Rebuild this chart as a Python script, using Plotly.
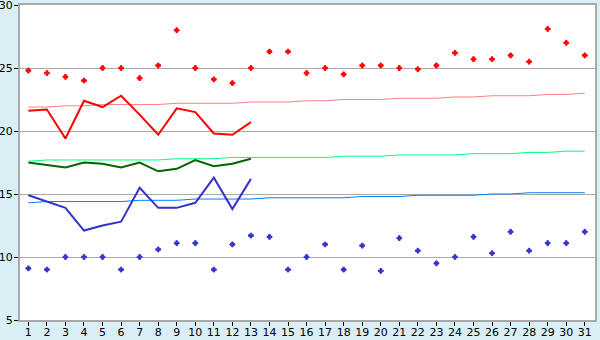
import plotly.graph_objects as go

days = list(range(1, 32))

# Daily maximum (markers)
max_daily = [24.8, 24.6, 24.3, 24.0, 25.0, 25.0, 24.2, 25.2, 28.0, 25.0,
             24.1, 23.8, 25.0, 26.3, 26.3, 24.6, 25.0, 24.5, 25.2, 25.2,
             25.0, 24.9, 25.2, 26.2, 25.7, 25.7, 26.0, 25.5, 28.1, 27.0, 26.0]
# Daily minimum (markers)
min_daily = [9.1, 9.0, 10.0, 10.0, 10.0, 9.0, 10.0, 10.6, 11.1, 11.1,
             9.0, 11.0, 11.7, 11.6, 9.0, 10.0, 11.0, 9.0, 10.9, 8.9,
             11.5, 10.5, 9.5, 10.0, 11.6, 10.3, 12.0, 10.5, 11.1, 11.1, 12.0]

# Current month running lines (days 1..13)
cur_days = list(range(1, 14))
cur_max = [21.6, 21.7, 19.4, 22.4, 21.9, 22.8, 21.3, 19.7, 21.8, 21.5, 19.8, 19.7, 20.7]
cur_mean = [17.5, 17.3, 17.1, 17.5, 17.4, 17.1, 17.5, 16.8, 17.0, 17.7, 17.2, 17.4, 17.8]
cur_min = [14.9, 14.4, 13.9, 12.1, 12.5, 12.8, 15.5, 13.9, 13.9, 14.3, 16.3, 13.8, 16.2]

# Normal (climatology) lines
norm_max = [21.9, 21.9, 22.0, 22.0, 22.1, 22.1, 22.1, 22.1, 22.2, 22.2,
            22.2, 22.2, 22.3, 22.3, 22.3, 22.4, 22.4, 22.5, 22.5, 22.5,
            22.6, 22.6, 22.6, 22.7, 22.7, 22.8, 22.8, 22.8, 22.9, 22.9, 23.0]
norm_mean = [17.6, 17.7, 17.7, 17.7, 17.7, 17.7, 17.7, 17.7, 17.8, 17.8,
             17.8, 17.9, 17.9, 17.9, 17.9, 17.9, 17.9, 18.0, 18.0, 18.0,
             18.1, 18.1, 18.1, 18.1, 18.2, 18.2, 18.2, 18.3, 18.3, 18.4, 18.4]
norm_min = [14.3, 14.4, 14.4, 14.4, 14.4, 14.4, 14.5, 14.5, 14.5, 14.6,
            14.6, 14.6, 14.6, 14.7, 14.7, 14.7, 14.7, 14.7, 14.8, 14.8,
            14.8, 14.9, 14.9, 14.9, 14.9, 15.0, 15.0, 15.1, 15.1, 15.1, 15.1]

y_ticks = [5, 10, 15, 20, 25, 30]

fig = go.Figure()

fig.add_trace(go.Scatter(x=days, y=norm_max, mode="lines",
                         line=dict(color="#FF8080", width=1)))
fig.add_trace(go.Scatter(x=days, y=norm_mean, mode="lines",
                         line=dict(color="#00FF80", width=1)))
fig.add_trace(go.Scatter(x=days, y=norm_min, mode="lines",
                         line=dict(color="#0080FF", width=1)))

fig.add_trace(go.Scatter(x=cur_days, y=cur_max, mode="lines",
                         line=dict(color="#FF0000", width=2)))
fig.add_trace(go.Scatter(x=cur_days, y=cur_mean, mode="lines",
                         line=dict(color="#006400", width=2)))
fig.add_trace(go.Scatter(x=cur_days, y=cur_min, mode="lines",
                         line=dict(color="#3333CC", width=2)))

fig.add_trace(go.Scatter(x=days, y=max_daily, mode="markers",
                         marker=dict(symbol="cross", size=4, color="#FF0000",
                                     line=dict(width=1, color="#FF0000"))))
fig.add_trace(go.Scatter(x=days, y=min_daily, mode="markers",
                         marker=dict(symbol="cross", size=4, color="#3333CC",
                                     line=dict(width=1, color="#3333CC"))))

fig.update_layout(
    width=600, height=340,
    margin=dict(l=20, r=5, t=5, b=20),
    paper_bgcolor="#DAEEF5",
    plot_bgcolor="#FFFFFF",
    showlegend=False,
    font=dict(family="DejaVu Sans", size=11, color="#000000"),
)
fig.update_xaxes(
    range=[0.55, 31.55], tickmode="array", tickvals=days,
    ticktext=[str(d) for d in days],
    showgrid=False, zeroline=False,
    showline=True, linecolor="#AAAAAA", linewidth=2, mirror=True,
    ticks="outside", ticklen=4, tickcolor="#000000", tickwidth=1,
    ticklabelstandoff=-3, ticklabeloverflow="allow",
    automargin=False,
)
fig.update_yaxes(
    range=[5, 30], tickmode="array", tickvals=y_ticks,
    ticktext=[str(v) for v in y_ticks],
    showgrid=True, gridcolor="#AAAAAA", gridwidth=1, zeroline=False,
    showline=True, linecolor="#AAAAAA", linewidth=2, mirror=True,
    ticks="outside", ticklen=4, tickcolor="#000000", tickwidth=1,
    ticklabelstandoff=-1, ticklabeloverflow="allow",
    automargin=False,
)

fig.write_html("out.html")
